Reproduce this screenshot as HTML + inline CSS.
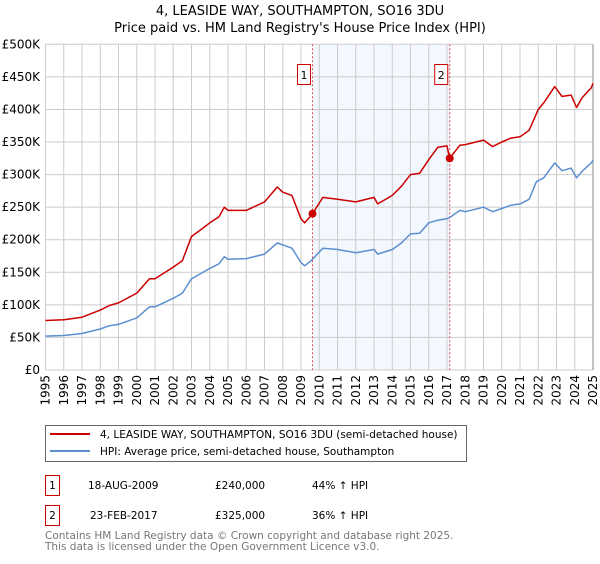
<!DOCTYPE html>
<html><head><meta charset="utf-8"><style>
body{margin:0;background:#fff;font-family:"DejaVu Sans","Liberation Sans",sans-serif;}
svg text{font-family:"DejaVu Sans","Liberation Sans",sans-serif;}
</style></head><body>
<svg id="chart" width="600" height="560" xmlns="http://www.w3.org/2000/svg">
<text x="300" y="15" text-anchor="middle" font-size="13">4, LEASIDE WAY, SOUTHAMPTON, SO16 3DU</text>
<text x="300" y="32" text-anchor="middle" font-size="13">Price paid vs. HM Land Registry's House Price Index (HPI)</text>
<g id="plot"></g>
<rect x="45.5" y="425.5" width="421" height="36" fill="#fff" stroke="#666"/>
<line x1="50" y1="434" x2="90" y2="434" stroke="#cc0000" stroke-width="2"/>
<text x="100" y="438" font-size="10.5">4, LEASIDE WAY, SOUTHAMPTON, SO16 3DU (semi-detached house)</text>
<line x1="50" y1="451" x2="90" y2="451" stroke="#5b8fd0" stroke-width="2"/>
<text x="100" y="455" font-size="10.5">HPI: Average price, semi-detached house, Southampton</text>
<rect x="45.5" y="475.5" width="14" height="20" fill="#fff" stroke="#cc0000"/>
<text x="52.5" y="489" text-anchor="middle" font-size="10.5">1</text>
<text x="88" y="489" font-size="10.5">18-AUG-2009</text>
<text x="215" y="489" font-size="10.5">£240,000</text>
<text x="312" y="489" font-size="10.5">44% ↑ HPI</text>
<rect x="45.5" y="505.5" width="14" height="20" fill="#fff" stroke="#cc0000"/>
<text x="52.5" y="519" text-anchor="middle" font-size="10.5">2</text>
<text x="90" y="519" font-size="10.5">23-FEB-2017</text>
<text x="215" y="519" font-size="10.5">£325,000</text>
<text x="312" y="519" font-size="10.5">36% ↑ HPI</text>
<text x="45" y="539" font-size="10.5" fill="#777">Contains HM Land Registry data © Crown copyright and database right 2025.</text>
<text x="45" y="550" font-size="10.5" fill="#777">This data is licensed under the Open Government Licence v3.0.</text>
</svg>
<script>
const yTicks=[0,50,100,150,200,250,300,350,400,450,500];
const yTickLabels=["£0","£50K","£100K","£150K","£200K","£250K","£300K","£350K","£400K","£450K","£500K"];
const years=[1995,1996,1997,1998,1999,2000,2001,2002,2003,2004,2005,2006,2007,2008,2009,2010,2011,2012,2013,2014,2015,2016,2017,2018,2019,2020,2021,2022,2023,2024,2025];
const hpiT=[1995,1996,1997,1998,1998.5,1999,2000,2000.7,2001,2002,2002.5,2003,2003.5,2004,2004.5,2004.8,2005,2006,2007,2007.7,2008,2008.5,2009,2009.2,2009.6,2010.2,2011,2012,2013,2013.2,2014,2014.5,2015,2015.5,2016,2016.5,2017.1,2017.7,2018,2019,2019.5,2020,2020.5,2021,2021.5,2021.9,2022.3,2022.9,2023.3,2023.8,2024.1,2024.4,2024.9,2025];
const hpiV=[52,53,56,63,68,70,80,97,97,110,118,140,148,156,163,174,170,171,178,195,192,187,165,160,169,187,185,180,185,178,185,195,209,210,226,230,233,245,243,250,243,248,253,255,262,289,295,318,306,310,295,305,318,322];
const priceT=[1995,1996,1997,1998,1998.5,1999,2000,2000.7,2001,2002,2002.5,2003,2003.5,2004,2004.5,2004.8,2005,2006,2007,2007.7,2008,2008.5,2009,2009.2,2009.63,2010.2,2011,2012,2013,2013.2,2014,2014.5,2015,2015.5,2016,2016.5,2017.0,2017.15,2017.7,2018,2019,2019.5,2020,2020.5,2021,2021.5,2022,2022.3,2022.9,2023.3,2023.8,2024.1,2024.4,2024.9,2025];
const priceV=[76,77,81,92,99,103,118,140,140,158,168,205,215,226,235,250,245,245,258,281,273,268,232,226,240,265,262,258,265,255,268,282,300,302,323,342,344,325,345,346,353,343,350,356,358,368,400,410,435,420,422,403,418,433,440];
const saleT=[2009.63,2017.15];
const saleV=[240,325];
const saleLabels=["1","2"];
const X0=45.5,X1=593,Y0=370,Y1=44.3;
const xs=t=>X0+(t-1995)/30*(X1-X0);
const ys=v=>Y0-v/500*(Y0-Y1);
const NS="http://www.w3.org/2000/svg";
const g=document.getElementById('plot');
function mk(tag,attrs){const e=document.createElementNS(NS,tag);for(const k in attrs)e.setAttribute(k,attrs[k]);g.appendChild(e);return e;}
let e=mk('rect',{x:xs(saleT[0]),y:Y1,width:xs(saleT[1])-xs(saleT[0]),height:Y0-Y1,fill:'#eef3fd',opacity:0.7});


yTicks.forEach((v,i)=>{
 let l=mk('line',{x1:X0,x2:X1,y1:ys(v),y2:ys(v),stroke:'#ccc'});
 
 
 let t=mk('text',{x:40,y:ys(v)+4,'text-anchor':'end','font-size':12});
 t.textContent=yTickLabels[i];
 
 
});
years.forEach(y=>{
 let l=mk('line',{x1:xs(y),x2:xs(y),y1:Y1,y2:Y0,stroke:'#ccc'});
 
 
 let t=mk('text',{x:0,y:0,'font-size':12,transform:`translate(${xs(y)+4},${Y0+5}) rotate(-90)`,'text-anchor':'end'});
 t.textContent=y;
 
 
});
e=mk('line',{x1:X1,x2:X1,y1:Y1,y2:Y0,stroke:'#888'});


saleT.forEach((t,i)=>{
 let l=mk('line',{x1:xs(t),x2:xs(t),y1:Y1,y2:Y0,stroke:'#e05050','stroke-dasharray':'2,2'});
 
 
});
function path(T,V,c,name){
 let d=T.map((t,i)=>(i?'L':'M')+xs(t).toFixed(1)+','+ys(V[i]).toFixed(1)).join('');
 let p=mk('path',{d:d,fill:'none',stroke:c,'stroke-width':1.5,'stroke-linejoin':'round'});
 
 
}
path(hpiT,hpiV,'#5b8fd0','hpi-line');
path(priceT,priceV,'#cc0000','price-line');
saleT.forEach((t,i)=>{
 let c=mk('circle',{cx:xs(t),cy:ys(saleV[i]),r:4,fill:'#cc0000'});
 
 
 let r=mk('rect',{x:xs(t)-15,y:64.5,width:13,height:20,fill:'#fff',stroke:'#cc0000'});
 
 
 let tx=mk('text',{x:xs(t)-8.5,y:79,'text-anchor':'middle','font-size':11});
 tx.textContent=saleLabels[i];
 
 
});
</script>
</body></html>
